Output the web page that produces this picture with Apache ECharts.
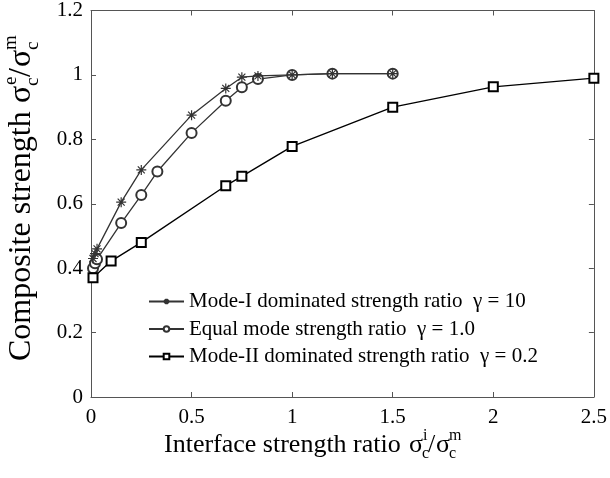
<!DOCTYPE html>
<html>
<head>
<meta charset="utf-8">
<script src="https://cdn.jsdelivr.net/npm/echarts@6/dist/echarts.min.js"></script>
<style>
  html, body { margin: 0; padding: 0; background: #fff; }
  #main { width: 610px; height: 478px; }
</style>
</head>
<body>
<div id="main"></div>
<script>
// data
var modeIX = [0.01, 0.02, 0.03, 0.15, 0.25, 0.5, 0.67, 0.75, 0.83, 1, 1.2, 1.5];
var modeIY = [0.43, 0.445, 0.46, 0.605, 0.705, 0.875, 0.958, 0.993, 0.997, 1.0, 1.004, 1.004];
var equalX = [0.01, 0.02, 0.03, 0.15, 0.25, 0.33, 0.5, 0.67, 0.75, 0.83, 1, 1.2, 1.5];
var equalY = [0.40, 0.415, 0.428, 0.54, 0.627, 0.70, 0.82, 0.92, 0.962, 0.987, 1.0, 1.004, 1.004];
var modeIIX = [0.01, 0.1, 0.25, 0.67, 0.75, 1, 1.5, 2, 2.5];
var modeIIY = [0.37, 0.422, 0.48, 0.656, 0.685, 0.778, 0.90, 0.963, 0.99];
var seriesNames = [
    'Mode-I dominated strength ratio  \u03b3 = 10',
    'Equal mode strength ratio  \u03b3 = 1.0',
    'Mode-II dominated strength ratio  \u03b3 = 0.2'
];

function pairs(xs, ys) {
    return xs.map(function (x, i) { return [x, ys[i]]; });
}

var serif = '"Liberation Serif", "DejaVu Serif", serif';
var frame = '#555';
var asterisk = 'path://M0,-1L0,1M-1,0L1,0M-0.7,-0.7L0.7,0.7M-0.7,0.7L0.7,-0.7';

var chart = echarts.init(document.getElementById('main'));

function fmt(v) { return String(+v.toFixed(1)); }

// small helper for the axis titles (sigma with sub/superscripts)
function txt(x, y, s, size) {
    return { type: 'text', x: x, y: y, style: { text: s, font: size + 'px ' + serif, fill: '#000', verticalAlign: 'middle' } };
}

// ticks pointing into the plot box, axis lines kept on the box edges
var tick = { show: true, inside: true, length: 5, lineStyle: { color: frame } };
var line = { show: true, onZero: false, lineStyle: { color: frame } };

var option = {
    backgroundColor: '#fff',
    animation: false,
    grid: { left: 91, right: 10, top: 10, bottom: 81 },
    legend: {
        orient: 'vertical',
        left: 143,
        top: 286,
        itemWidth: 35,
        itemHeight: 7,
        itemGap: 6.5,
        textStyle: { fontFamily: serif, fontSize: 21, color: '#000' },
        data: seriesNames
    },
    xAxis: [
        {
            type: 'value', min: 0, max: 2.5, interval: 0.5,
            axisLine: line,
            axisTick: tick,
            axisLabel: { color: '#000', fontFamily: serif, fontSize: 21, margin: 10, formatter: fmt },
            splitLine: { show: false }
        },
        {
            type: 'value', position: 'top', min: 0, max: 2.5, interval: 0.5,
            axisLine: line,
            axisTick: tick,
            axisLabel: { show: false },
            splitLine: { show: false }
        }
    ],
    yAxis: [
        {
            type: 'value', min: 0, max: 1.2, interval: 0.2,
            axisLine: line,
            axisTick: tick,
            axisLabel: { color: '#000', fontFamily: serif, fontSize: 21, margin: 8, formatter: fmt },
            splitLine: { show: false }
        },
        {
            type: 'value', position: 'right', min: 0, max: 1.2, interval: 0.2,
            axisLine: line,
            axisTick: tick,
            axisLabel: { show: false },
            splitLine: { show: false }
        }
    ],
    graphic: [
        {
            type: 'group', x: 0, y: 0,
            children: [
                txt(164, 445, 'Interface strength ratio', 26),
                txt(409, 445, '\u03c3', 26),
                txt(422, 454, 'c', 16),
                txt(423, 436, 'i', 16),
                txt(428, 445, '/', 26),
                txt(436, 445, '\u03c3', 26),
                txt(449, 454, 'c', 16),
                txt(449, 436, 'm', 16)
            ]
        },
        {
            type: 'group', x: 22, y: 361, rotation: Math.PI / 2,
            children: [
                txt(0, 0, 'Composite strength', 32),
                txt(258, 0, '\u03c3', 32),
                txt(275, 11, 'c', 19),
                txt(276, -11, 'e', 19),
                txt(284, 0, '/', 32),
                txt(294, 0, '\u03c3', 32),
                txt(311, 11, 'c', 19),
                txt(311, -11, 'm', 19)
            ]
        }
    ],
    series: [
        {
            name: seriesNames[0],
            type: 'line',
            data: pairs(modeIX, modeIY),
            symbol: asterisk,
            symbolSize: 10,
            lineStyle: { color: '#333', width: 1.3 },
            itemStyle: { color: '#333', borderColor: '#333', borderWidth: 1.2 },
            z: 3
        },
        {
            name: seriesNames[1],
            type: 'line',
            data: pairs(equalX, equalY),
            symbol: 'emptyCircle',
            symbolSize: 10,
            lineStyle: { color: '#333', width: 1.3 },
            itemStyle: { color: '#333', borderColor: '#333', borderWidth: 1.2 },
            z: 2
        },
        {
            name: seriesNames[2],
            type: 'line',
            data: pairs(modeIIX, modeIIY),
            symbol: 'emptyRect',
            symbolSize: 9,
            lineStyle: { color: '#000', width: 1.4 },
            itemStyle: { color: '#000', borderColor: '#000', borderWidth: 1.3 },
            z: 2
        }
    ]
};
chart.setOption(option);
</script>
</body>
</html>
